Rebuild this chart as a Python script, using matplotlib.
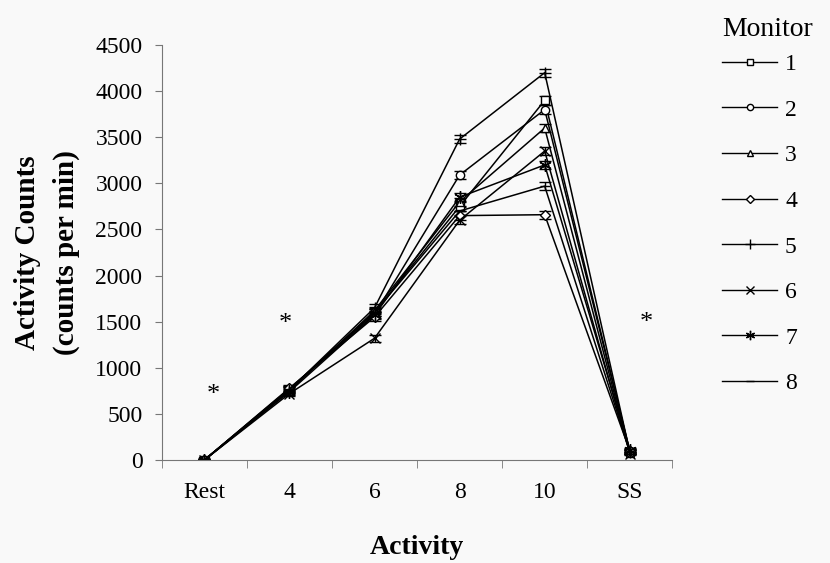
import numpy as np
import matplotlib.pyplot as plt
from matplotlib.lines import Line2D

plt.rcParams['font.family'] = ['Liberation Serif', 'DejaVu Serif']

## Data
categories = ['Rest', '4', '6', '8', '10', 'SS']
monitor_names = ['1', '2', '3', '4', '5', '6', '7', '8']
m1 = [0, 760, 1600, 2750, 3900, 90]
m2 = [0, 770, 1580, 3090, 3800, 100]
m3 = [0, 750, 1620, 2800, 3600, 80]
m4 = [0, 780, 1550, 2650, 2660, 100]
m5 = [0, 760, 1650, 3480, 4200, 90]
m6 = [0, 720, 1320, 2600, 3350, 70]
m7 = [0, 740, 1570, 2850, 3200, 110]
m8 = [0, 770, 1600, 2700, 2970, 90]
err = [10, 30, 40, 45, 45, 20]
markers = ['s', 'o', '^', 'D', '+', 'x', (6, 2, 0), '_']
sizes = [6, 6, 6, 5, 9, 7, 9, 7]

# significance marks: (category position, value)
star_x = [0.1, 0.95, 5.2]
star_y = [700, 1470, 1490]

series = [m1, m2, m3, m4, m5, m6, m7, m8]
xs = np.arange(len(categories))

fig = plt.figure(figsize=(8.3, 5.63), dpi=100, facecolor='#f9f9f9')
ax = fig.add_axes([0.195, 0.183, 0.615, 0.737])
ax.set_facecolor('#f9f9f9')

handles = []
for vals, name, mk, ms in zip(series, monitor_names, markers, sizes):
	ax.errorbar(xs, vals, yerr=err, color='black', lw=1.1, marker=mk,
	            ms=ms, mfc='white', mec='black', mew=1.0,
	            capsize=4, elinewidth=1.0, capthick=1.0)
	handles.append(Line2D([], [], color='black', lw=1.0, marker=mk,
	                      ms=ms*0.75, mfc='white', mec='black', mew=1.0,
	                      label=name))

for sx, sy in zip(star_x, star_y):
	ax.text(sx, sy, '*', fontsize=19, ha='center', va='center')

ax.set_xlim(-0.5, len(categories) - 0.5)
ax.set_ylim(0, 4500)
ax.set_yticks(np.arange(0, 4501, 500))
ax.set_xticks(xs)
ax.set_xticklabels(categories)
ax.set_xticks(np.arange(-0.5, len(categories)), minor=True)
ax.tick_params(axis='x', which='major', length=0, pad=16, labelsize=17)
ax.tick_params(axis='x', which='minor', length=6, color='#777777')
ax.tick_params(axis='y', length=5, color='#777777', labelsize=17, pad=9)

for s in ['top', 'right']:
	ax.spines[s].set_visible(False)
for s in ['left', 'bottom']:
	ax.spines[s].set_color('#777777')
	ax.spines[s].set_linewidth(0.8)

ax.set_xlabel('Activity', fontsize=20, fontweight='bold', labelpad=23)
ax.set_ylabel('Activity Counts\n(counts per min)', fontsize=21,
              fontweight='bold', linespacing=1.55)
ax.yaxis.set_label_coords(-0.16, 0.5)

leg = fig.legend(handles=handles, title='Monitor', loc='upper left',
                 bbox_to_anchor=(713/830, 1 - 8/563), frameon=False,
                 fontsize=17, title_fontsize=20, labelspacing=1.02,
                 handlelength=2.3, handletextpad=0.35, borderaxespad=0)
leg._legend_box.align = 'left'
leg._legend_box.sep = 8

fig.savefig('out.png', dpi=100, facecolor=fig.get_facecolor())
